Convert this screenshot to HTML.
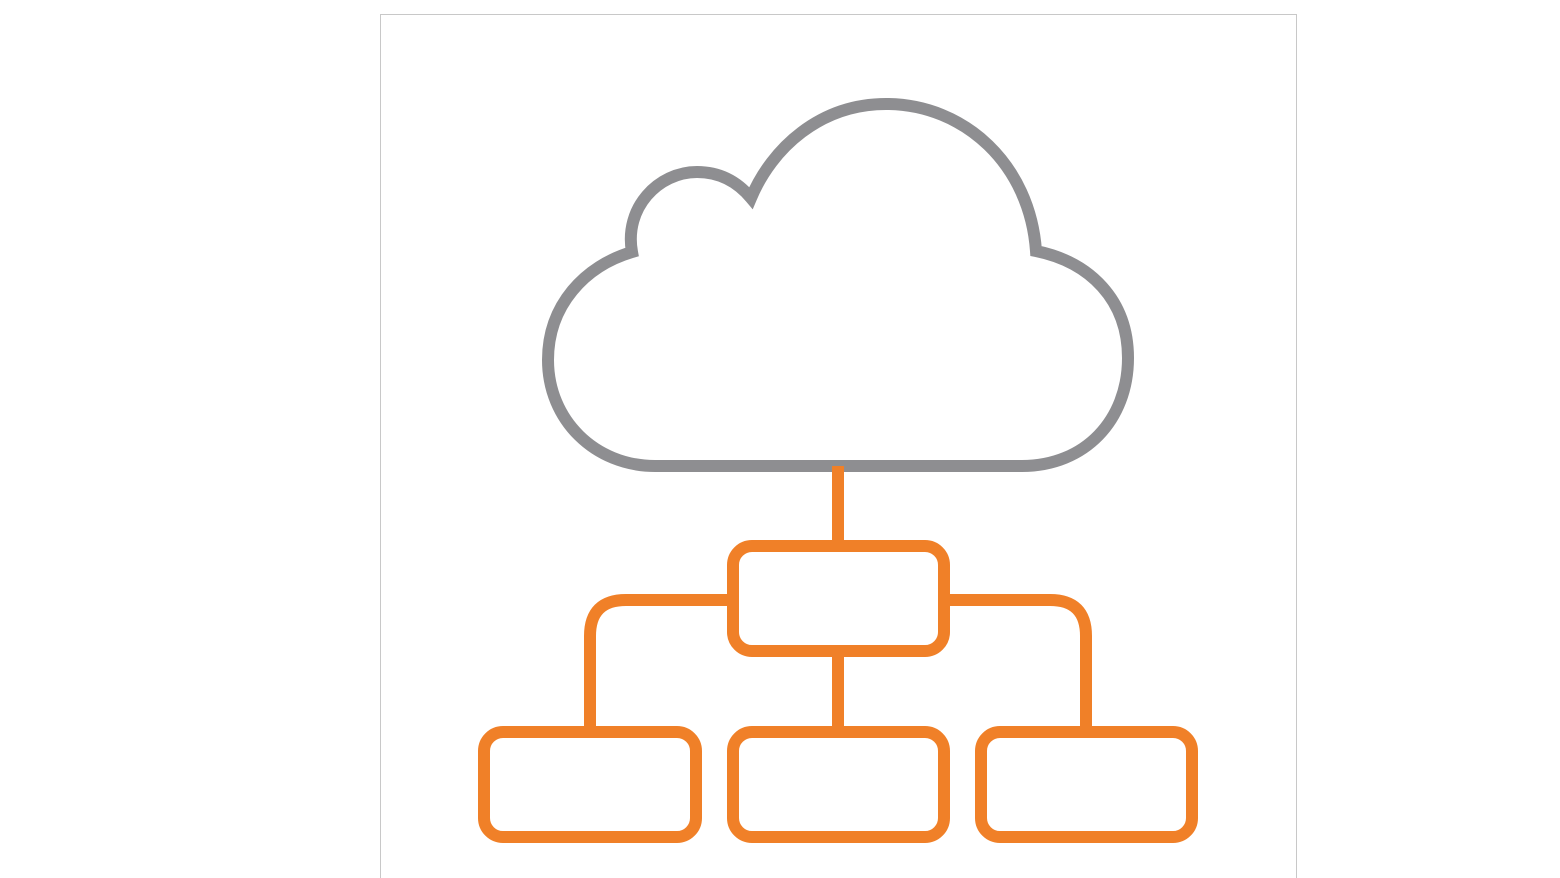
<!DOCTYPE html>
<html><head><meta charset="utf-8"><style>
html,body{margin:0;padding:0;background:#fff;width:1560px;height:878px;overflow:hidden}
</style></head><body>
<svg width="1560" height="878" viewBox="0 0 1560 878" xmlns="http://www.w3.org/2000/svg">
<rect x="380.5" y="14.5" width="916" height="880" fill="#fff" stroke="#c8c8c8" stroke-width="1"/>
<path d="M655,466 L1022,466 C1085,466 1128,420 1128,358 C1128,300 1090,262 1036,251 C1030,165 965,104 886,104 C820,104 772,148 751,198 C736,180 718,172 697,172 C658,172 624,208 632,252 C585,266 548,305 548,360 C548,420 595,466 655,466 Z" fill="none" stroke="#8e8e91" stroke-width="12" stroke-linejoin="miter"/>
<g fill="none" stroke="#f08028" stroke-width="12">
<line x1="838" y1="466" x2="838" y2="546"/>
<rect x="733" y="546" width="211" height="105" rx="19"/>
<line x1="838" y1="651" x2="838" y2="732"/>
<path d="M733,600 L626,600 Q590,600 590,636 L590,732"/>
<path d="M944,600 L1050,600 Q1086,600 1086,636 L1086,732"/>
<rect x="484" y="732" width="212" height="105" rx="19"/>
<rect x="733" y="732" width="211" height="105" rx="19"/>
<rect x="981" y="732" width="211" height="105" rx="19"/>
</g>
</svg>
</body></html>
